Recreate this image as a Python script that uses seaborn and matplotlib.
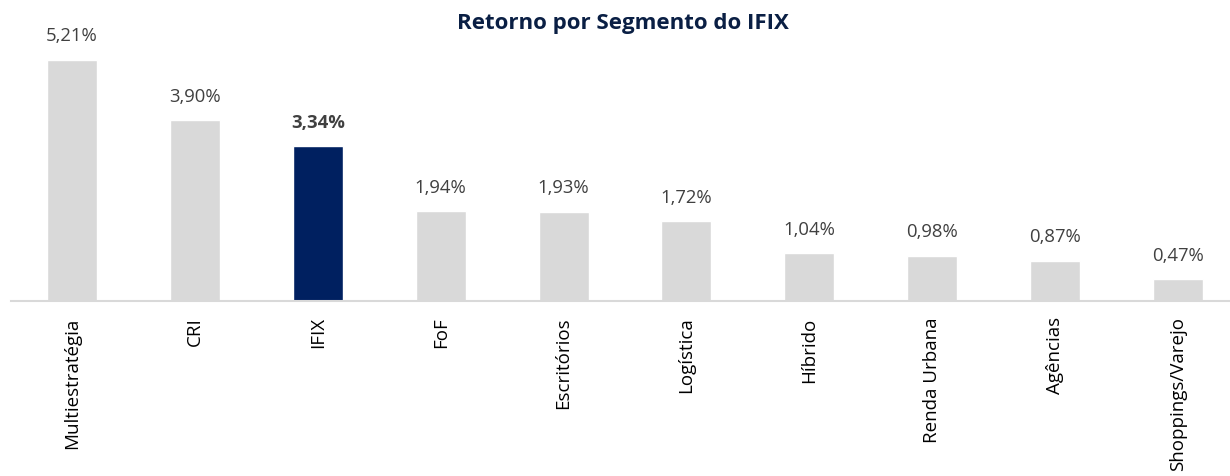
import matplotlib
matplotlib.use("Agg")
import matplotlib.pyplot as plt
import seaborn as sns
import pandas as pd

# categories and returns (%)
segmentos = ['Multiestratégia', 'CRI', 'IFIX', 'FoF', 'Escritórios', 'Logística',
             'Híbrido', 'Renda Urbana', 'Agências', 'Shoppings/Varejo']
retornos = [5.21, 3.90, 3.34, 1.94, 1.93, 1.72, 1.04, 0.98, 0.87, 0.47]
destaque = 'IFIX'

CINZA = '#d9d9d9'
AZUL = '#002060'

sns.set_theme(style='white')
plt.rcParams['font.family'] = ['Open Sans', 'DejaVu Sans']

df = pd.DataFrame({'segmento': segmentos, 'retorno': retornos})
cores = {s: (AZUL if s == destaque else CINZA) for s in segmentos}

fig = plt.figure(figsize=(12.3, 4.77), dpi=100)
ax = fig.add_axes([10.5 / 1230, 175 / 477, 1219.5 / 1230, 302 / 477])

sns.barplot(data=df, x='segmento', y='retorno', hue='segmento', palette=cores,
            width=0.407, legend=False, ax=ax, saturation=1)

ax.set_xlim(-0.5, -0.5 + 1219.5 / 122.9)
ax.set_ylim(0, 302 / 46.3)

for i, (s, v) in enumerate(zip(segmentos, retornos)):
    txt = f'{v:.2f}%'.replace('.', ',')
    ax.text(i, v + 0.33, txt, ha='center', va='bottom', fontsize=13.3,
            color='#404040', fontweight='bold' if s == destaque else 'normal')

ax.set_xlabel('')
ax.set_ylabel('')
ax.set_yticks([])
ax.tick_params(axis='x', rotation=90, labelsize=13.5, colors='black', length=0, pad=11)
for lab in ax.get_xticklabels():
    lab.set_va('top')
for side in ['top', 'right', 'left']:
    ax.spines[side].set_visible(False)
ax.spines['bottom'].set_color(CINZA)
ax.spines['bottom'].set_linewidth(1.5)

fig.text(623 / 1230, 1 - 23 / 477, 'Retorno por Segmento do IFIX', ha='center', va='center',
         fontsize=16, fontweight='bold', color='#0a1f44')

fig.savefig('out.png', dpi=100)
